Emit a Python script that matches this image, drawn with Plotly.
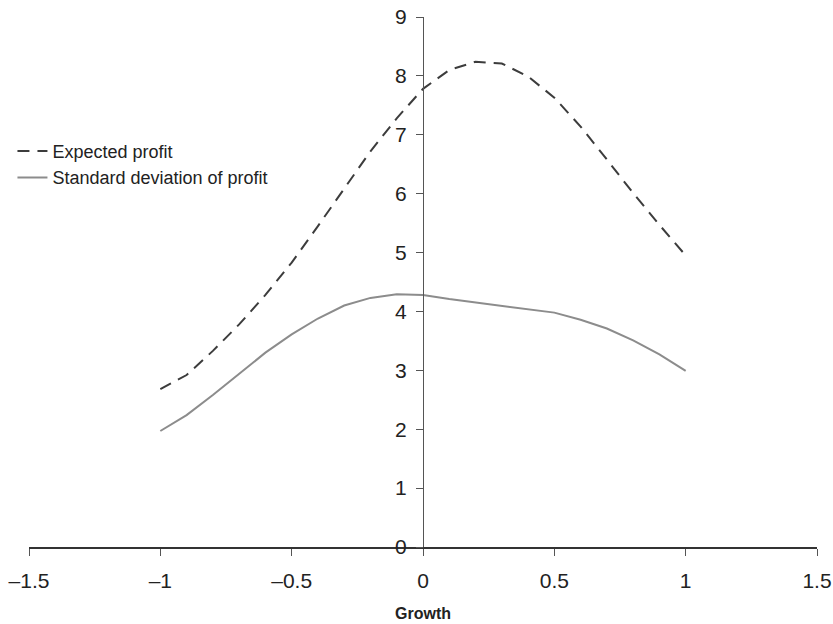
import plotly.graph_objects as go

growth = [-1.0, -0.9, -0.8, -0.7, -0.6, -0.5, -0.4, -0.3, -0.2, -0.1, 0.0,
          0.1, 0.2, 0.3, 0.4, 0.5, 0.6, 0.7, 0.8, 0.9, 1.0]
expected_profit = [2.68, 2.92, 3.33, 3.78, 4.28, 4.83, 5.45, 6.08, 6.72, 7.28, 7.78,
                   8.10, 8.24, 8.21, 7.99, 7.63, 7.14, 6.58, 6.01, 5.47, 4.95]
std_profit = [1.97, 2.24, 2.58, 2.94, 3.30, 3.61, 3.88, 4.10, 4.23, 4.29, 4.28,
              4.21, 4.15, 4.09, 4.03, 3.98, 3.86, 3.71, 3.51, 3.27, 2.99]

x_tickvals = [-1.5, -1, -0.5, 0, 0.5, 1, 1.5]
x_ticktext = ["\u20131.5", "\u20131", "\u20130.5", "0", "0.5", "1", "1.5"]
y_tickvals = [0, 1, 2, 3, 4, 5, 6, 7, 8, 9]

FONT = "Liberation Sans, Arial, sans-serif"

fig = go.Figure()
fig.add_trace(go.Scatter(
    x=growth, y=expected_profit, mode="lines", name="Expected profit",
    line=dict(color="#3c3c3c", width=2, dash="12px,8px"),
))
fig.add_trace(go.Scatter(
    x=growth, y=std_profit, mode="lines", name="Standard deviation of profit",
    line=dict(color="#8c8c8c", width=2),
))

fig.update_layout(
    width=833, height=624,
    margin=dict(l=29, r=16, t=17, b=77, autoexpand=False),
    paper_bgcolor="white", plot_bgcolor="white",
    font=dict(family=FONT, color="#222222"),
    showlegend=True,
    legend=dict(
        x=-0.021, xanchor="left", y=0.722, yanchor="middle",
        bgcolor="rgba(0,0,0,0)", font=dict(size=18, family=FONT, color="#222222"),
        tracegroupgap=0, itemwidth=30,
    ),
    xaxis=dict(
        range=[-1.5, 1.5], tickvals=x_tickvals, ticktext=x_ticktext,
        showgrid=False, zeroline=False, showline=True, linecolor="#333333", linewidth=1.5,
        ticks="outside", ticklen=7, tickcolor="#555555", tickwidth=1,
        tickfont=dict(size=21, family=FONT, color="#222222"),
        ticklabelstandoff=7, ticklabeloverflow="allow",
        title=dict(text="<b>Growth</b>", font=dict(size=16, family=FONT, color="#222222"), standoff=17),
        automargin=False,
        fixedrange=True,
    ),
    yaxis=dict(
        range=[0, 9], tickvals=y_tickvals,
        anchor="free", position=0.5,
        showgrid=False, zeroline=False, showline=True, linecolor="#555555", linewidth=1.2,
        ticks="outside", ticklen=7, tickcolor="#555555", tickwidth=1,
        tickfont=dict(size=21, family=FONT, color="#222222"),
        ticklabelstandoff=5, ticklabeloverflow="allow",
        automargin=False,
        fixedrange=True,
    ),
)

fig.write_html("out.html", config={"displayModeBar": False},
               post_script="document.body.style.margin='0px';")
